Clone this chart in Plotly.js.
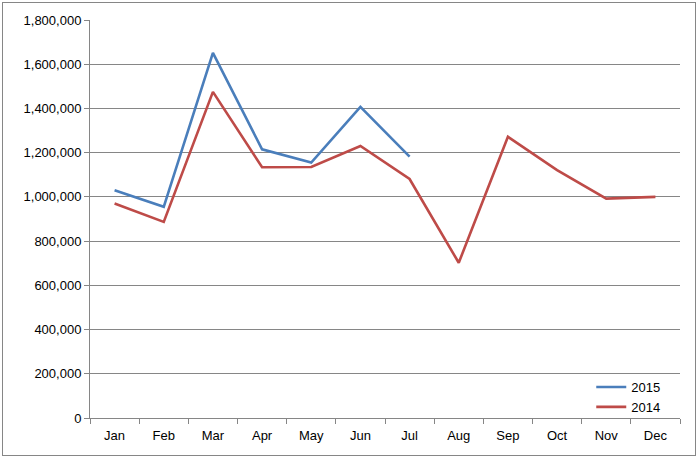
<!DOCTYPE html>
<html>
<head>
<meta charset="utf-8">
<script src="https://cdn.plot.ly/plotly-3.0.1.min.js"></script>
<style>
    body { margin: 0; background: #fff; }
    #chart { position: absolute; left: 2px; top: 2px; width: 692px; height: 452px; border: 1px solid #868686; }
</style>
</head>
<body>
<div id="chart"></div>
<script>
// Month categories
var months = ['Jan', 'Feb', 'Mar', 'Apr', 'May', 'Jun', 'Jul', 'Aug', 'Sep', 'Oct', 'Nov', 'Dec'];

// Series values (2015 only up to Jul)
var values2015 = [1030000, 955000, 1651000, 1215000, 1155000, 1407000, 1182000];
var values2014 = [970000, 887000, 1475000, 1134000, 1135000, 1230000, 1081000, 702000, 1272000, 1121000, 992000, 1000000];

var data = [
    {
        x: months.slice(0, values2015.length),
        y: values2015,
        type: 'scatter',
        mode: 'lines',
        name: '2015',
        line: {color: '#4a7ebb', width: 2.6}
    },
    {
        x: months,
        y: values2014,
        type: 'scatter',
        mode: 'lines',
        name: '2014',
        line: {color: '#be4b48', width: 2.6}
    }
];

var layout = {
    width: 692,
    height: 452,
    margin: {l: 87, r: 15, t: 17, b: 37},
    paper_bgcolor: '#fff',
    plot_bgcolor: '#fff',
    font: {family: 'Liberation Sans, Arial, sans-serif', size: 13, color: '#000'},
    showlegend: true,
    legend: {
        x: 0.975, xanchor: 'right', y: -0.01, yanchor: 'bottom',
        bgcolor: 'rgba(0,0,0,0)',
        font: {size: 13},
        tracegroupgap: 0,
        itemwidth: 30
    },
    xaxis: {
        type: 'category',
        categoryarray: months,
        range: [-0.5, 11.5],
        tickson: 'boundaries',
        ticks: 'outside',
        ticklen: 5,
        tickcolor: '#868686',
        ticklabelstandoff: 5,
        showline: true,
        linecolor: '#868686',
        linewidth: 1,
        showgrid: false,
        zeroline: false,
        fixedrange: true
    },
    yaxis: {
        range: [0, 1800000],
        dtick: 200000,
        tickformat: ',d',
        ticks: 'outside',
        ticklen: 5,
        tickcolor: '#868686',
        showline: true,
        linecolor: '#868686',
        linewidth: 1,
        gridcolor: '#868686',
        gridwidth: 1,
        zeroline: false,
        fixedrange: true
    }
};

Plotly.newPlot('chart', data, layout, {displayModeBar: false, staticPlot: true});
</script>
</body>
</html>
